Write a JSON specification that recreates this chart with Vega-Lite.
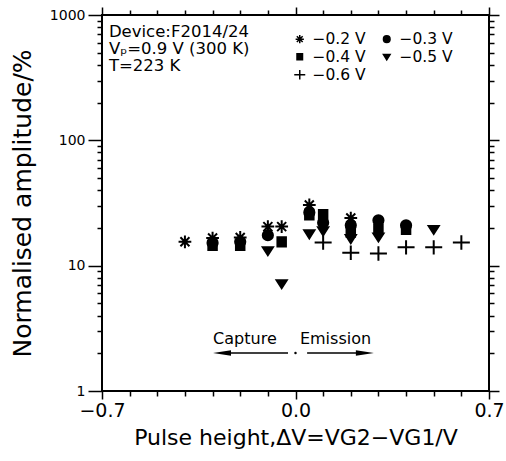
{
  "$schema": "https://vega.github.io/schema/vega-lite/v6.json",
  "width": 387,
  "height": 376,
  "autosize": {"type": "none"},
  "padding": {"left": 102, "top": 15, "right": 17, "bottom": 70},
  "background": "white",
  "config": {
    "font": "DejaVu Sans",
    "view": {"stroke": "black", "strokeWidth": 2},
    "axis": {"domain": false, "grid": false, "tickColor": "black", "tickWidth": 1.5, "labelColor": "black", "titleColor": "black", "labelFont": "DejaVu Sans", "titleFont": "DejaVu Sans", "titleFontWeight": "normal"}
  },
  "datasets": {
    "pts": [
      {"series": "−0.2 V", "dv": -0.4, "amp": 15.5},
      {"series": "−0.2 V", "dv": -0.3, "amp": 16.6},
      {"series": "−0.2 V", "dv": -0.2, "amp": 16.8},
      {"series": "−0.2 V", "dv": -0.1, "amp": 20.5},
      {"series": "−0.2 V", "dv": -0.05, "amp": 20.5},
      {"series": "−0.2 V", "dv": 0.05, "amp": 30.5},
      {"series": "−0.2 V", "dv": 0.2, "amp": 24},
      {"series": "−0.3 V", "dv": -0.3, "amp": 15.2},
      {"series": "−0.3 V", "dv": -0.2, "amp": 15.5},
      {"series": "−0.3 V", "dv": -0.1, "amp": 17.5},
      {"series": "−0.3 V", "dv": 0.05, "amp": 26.5},
      {"series": "−0.3 V", "dv": 0.1, "amp": 22},
      {"series": "−0.3 V", "dv": 0.2, "amp": 21},
      {"series": "−0.3 V", "dv": 0.3, "amp": 23},
      {"series": "−0.3 V", "dv": 0.4, "amp": 21},
      {"series": "−0.4 V", "dv": -0.3, "amp": 14.5},
      {"series": "−0.4 V", "dv": -0.2, "amp": 14.5},
      {"series": "−0.4 V", "dv": -0.05, "amp": 15.5},
      {"series": "−0.4 V", "dv": 0.05, "amp": 25.5},
      {"series": "−0.4 V", "dv": 0.1, "amp": 25.5},
      {"series": "−0.4 V", "dv": 0.2, "amp": 18.5},
      {"series": "−0.4 V", "dv": 0.3, "amp": 19.5},
      {"series": "−0.4 V", "dv": 0.4, "amp": 19.5},
      {"series": "−0.5 V", "dv": -0.1, "amp": 13.2},
      {"series": "−0.5 V", "dv": -0.05, "amp": 7.2},
      {"series": "−0.5 V", "dv": 0.05, "amp": 18},
      {"series": "−0.5 V", "dv": 0.1, "amp": 19},
      {"series": "−0.5 V", "dv": 0.2, "amp": 16.5},
      {"series": "−0.5 V", "dv": 0.3, "amp": 17},
      {"series": "−0.5 V", "dv": 0.5, "amp": 19.5},
      {"series": "−0.6 V", "dv": 0.1, "amp": 15.3},
      {"series": "−0.6 V", "dv": 0.2, "amp": 12.7},
      {"series": "−0.6 V", "dv": 0.3, "amp": 12.5},
      {"series": "−0.6 V", "dv": 0.4, "amp": 14},
      {"series": "−0.6 V", "dv": 0.5, "amp": 14},
      {"series": "−0.6 V", "dv": 0.6, "amp": 15.3}
    ],
    "notes": [
      {"dv": -0.675, "amp": 667, "label": "Device:F2014/24", "size": 16.5},
      {"dv": -0.675, "amp": 488, "label": "Vₚ=0.9 V (300 K)", "size": 16.5},
      {"dv": -0.675, "amp": 356, "label": "T=223 K", "size": 16.5},
      {"dv": -0.298, "amp": 2.38, "label": "Capture", "size": 16},
      {"dv": 0.016, "amp": 2.38, "label": "Emission", "size": 16}
    ],
    "arrows": [
      {"x1": -0.027, "x2": -0.27, "amp": 2.01},
      {"x1": 0.042, "x2": 0.26, "amp": 2.01}
    ],
    "leftHead": [{"dv": -0.266, "amp": 2.01}],
    "rightHead": [{"dv": 0.251, "amp": 2.01}],
    "dot": [{"dv": 0.0, "amp": 2.01}]
  },
  "resolve": {"axis": {"x": "independent", "y": "independent"}},
  "layer": [
    {
      "data": {"name": "pts"},
      "mark": {"type": "point", "filled": true, "strokeWidth": 2, "size": 289, "opacity": 1},
      "encoding": {
        "x": {
          "field": "dv", "type": "quantitative",
          "scale": {"domain": [-0.7, 0.7], "nice": false, "zero": false},
          "axis": {
            "orient": "bottom",
            "values": [-0.7, -0.6, -0.5, -0.4, -0.3, -0.2, -0.1, 0, 0.1, 0.2, 0.3, 0.4, 0.5, 0.6, 0.7],
            "format": ".1f",
            "labelExpr": "abs(abs(datum.value) - 0.7) < 0.01 || abs(datum.value) < 0.01 ? datum.label : ''",
            "tickSize": {"condition": {"test": "abs(abs(datum.value) - 0.7) < 0.01 || abs(datum.value) < 0.01", "value": 8}, "value": 5},
            "labelFontSize": 19,
            "labelPadding": 2,
            "labelFlush": false,
            "title": "Pulse height,ΔV=VG2−VG1/V",
            "titleFontSize": 22,
            "titlePadding": 7
          }
        },
        "y": {
          "field": "amp", "type": "quantitative",
          "scale": {"type": "log", "domain": [1, 1000], "nice": false},
          "axis": {
            "orient": "left",
            "values": [1, 2, 3, 4, 5, 6, 7, 8, 9, 10, 20, 30, 40, 50, 60, 70, 80, 90, 100, 200, 300, 400, 500, 600, 700, 800, 900, 1000],
            "format": "d",
            "labelExpr": "indexof([1, 10, 100, 1000], datum.value) >= 0 ? datum.label : ''",
            "tickSize": {"condition": {"test": "indexof([1, 10, 100, 1000], datum.value) >= 0", "value": 14}, "value": 5},
            "labelFontSize": 14,
            "labelPadding": 3,
            "labelFlush": false,
            "title": "Normalised amplitude/%",
            "titleFontSize": 25,
            "titlePadding": 14
          }
        },
        "fill": {"value": "black"},
        "stroke": {"value": "black"},
        "shape": {
          "field": "series", "type": "nominal",
          "scale": {
            "domain": ["−0.2 V", "−0.4 V", "−0.6 V", "−0.3 V", "−0.5 V"],
            "range": [
              "M-0.75,0L0.75,0M0,-0.75L0,0.75M-0.53,-0.53L0.53,0.53M-0.53,0.53L0.53,-0.53",
              "M-0.5,-0.55L0.5,-0.55L0.5,0.55L-0.5,0.55Z",
              "M-1,0L1,0M0,-0.85L0,0.85",
              "M0.6,0A0.6,0.6,0,1,1,-0.6,0A0.6,0.6,0,1,1,0.6,0Z",
              "M-0.6,-0.4L0.6,-0.4L0,0.55Z"
            ]
          },
          "legend": {
            "title": null,
            "orient": "none",
            "legendX": 190,
            "legendY": 16,
            "columns": 2,
            "columnPadding": 13,
            "rowPadding": 1,
            "padding": 0,
            "labelFontSize": 15.5,
            "labelFont": "DejaVu Sans",
            "labelColor": "black",
            "labelOffset": 5,
            "symbolSize": 121,
            "symbolStrokeWidth": 1.5,
            "symbolOpacity": 1
          }
        }
      }
    },
    {
      "data": {"name": "pts"},
      "mark": {"type": "point", "opacity": 0},
      "encoding": {
        "x": {
          "field": "dv", "type": "quantitative",
          "axis": {
            "orient": "top",
            "values": [-0.7, -0.6, -0.5, -0.4, -0.3, -0.2, -0.1, 0, 0.1, 0.2, 0.3, 0.4, 0.5, 0.6, 0.7],
            "labels": false,
            "title": null,
            "tickSize": {"condition": {"test": "abs(abs(datum.value) - 0.7) < 0.01 || abs(datum.value) < 0.01", "value": 8}, "value": 5}
          }
        },
        "y": {
          "field": "amp", "type": "quantitative",
          "axis": {
            "orient": "right",
            "values": [1, 2, 3, 4, 5, 6, 7, 8, 9, 10, 20, 30, 40, 50, 60, 70, 80, 90, 100, 200, 300, 400, 500, 600, 700, 800, 900, 1000],
            "labels": false,
            "title": null,
            "tickSize": {"condition": {"test": "indexof([1, 10, 100, 1000], datum.value) >= 0", "value": 10}, "value": 5}
          }
        }
      }
    },
    {
      "data": {"name": "notes"},
      "mark": {"type": "text", "align": "left", "baseline": "alphabetic", "color": "black", "font": "DejaVu Sans"},
      "encoding": {
        "x": {"field": "dv", "type": "quantitative", "axis": null},
        "y": {"field": "amp", "type": "quantitative", "axis": null},
        "text": {"field": "label"},
        "size": {"field": "size", "type": "quantitative", "scale": null}
      }
    },
    {
      "data": {"name": "arrows"},
      "mark": {"type": "rule", "color": "black", "strokeWidth": 1.5},
      "encoding": {
        "x": {"field": "x1", "type": "quantitative", "axis": null},
        "x2": {"field": "x2"},
        "y": {"field": "amp", "type": "quantitative", "axis": null}
      }
    },
    {
      "data": {"name": "leftHead"},
      "mark": {"type": "point", "shape": "M-1,0L1,-0.3L1,0.3Z", "size": 324, "filled": true, "fill": "black", "opacity": 1},
      "encoding": {
        "x": {"field": "dv", "type": "quantitative", "axis": null},
        "y": {"field": "amp", "type": "quantitative", "axis": null}
      }
    },
    {
      "data": {"name": "rightHead"},
      "mark": {"type": "point", "shape": "M1,0L-1,-0.3L-1,0.3Z", "size": 324, "filled": true, "fill": "black", "opacity": 1},
      "encoding": {
        "x": {"field": "dv", "type": "quantitative", "axis": null},
        "y": {"field": "amp", "type": "quantitative", "axis": null}
      }
    },
    {
      "data": {"name": "dot"},
      "mark": {"type": "point", "shape": "circle", "size": 6, "filled": true, "fill": "black", "opacity": 1},
      "encoding": {
        "x": {"field": "dv", "type": "quantitative", "axis": null},
        "y": {"field": "amp", "type": "quantitative", "axis": null}
      }
    }
  ]
}
